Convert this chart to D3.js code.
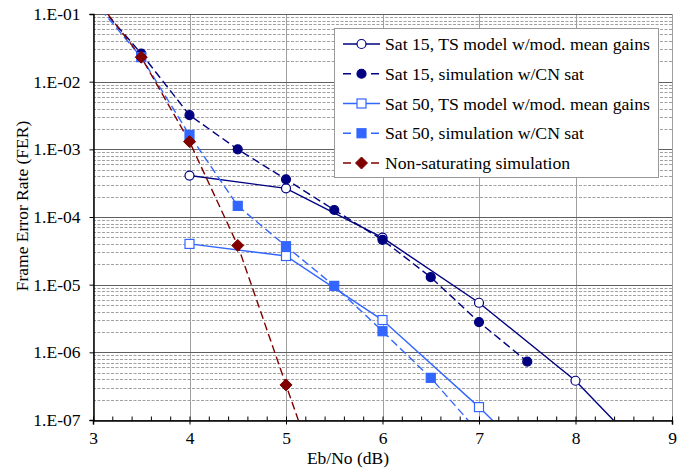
<!DOCTYPE html>
<html>
<head>
<meta charset="utf-8">
<script src="https://cdn.jsdelivr.net/npm/d3@7"></script>
<style>
  body { margin: 0; background: #fff; }
</style>
</head>
<body>
<div id="chart"></div>
<script>
// Eb/No (dB) points and frame error rates
const xSat15TS = [4, 5, 6, 7, 8, 8.5];
const ferSat15TS = [4.1e-4, 2.65e-4, 4.95e-5, 5.4e-6, 3.8e-7, 6.9e-8];

const xSat15Sim = [3, 3.5, 4, 4.5, 5, 5.5, 6, 6.5, 7, 7.5];
const ferSat15Sim = [0.17, 2.6e-2, 3.2e-3, 1.0e-3, 3.6e-4, 1.27e-4, 4.6e-5, 1.29e-5, 2.8e-6, 7.3e-7];

const xSat50TS = [4, 5, 6, 7, 7.5];
const ferSat50TS = [4.0e-5, 2.65e-5, 3.0e-6, 1.55e-7, 3.1e-8];

const xSat50Sim = [3, 3.5, 4, 4.5, 5, 5.5, 6, 6.5, 7];
const ferSat50Sim = [0.16, 2.3e-2, 1.63e-3, 1.46e-4, 3.7e-5, 9.6e-6, 2.05e-6, 4.2e-7, 6.5e-8];

const xNonSat = [3, 3.5, 4, 4.5, 5, 5.5];
const ferNonSat = [0.19, 2.3e-2, 1.3e-3, 3.8e-5, 3.3e-7, 3e-9];

const seriesNames = [
  "Sat 15, TS model w/mod. mean gains",
  "Sat 15, simulation w/CN sat",
  "Sat 50, TS model w/mod. mean gains",
  "Sat 50, simulation w/CN sat",
  "Non-saturating simulation"
];
const xTicks = [3, 4, 5, 6, 7, 8, 9];
const yTicks = [1e-7, 1e-6, 1e-5, 1e-4, 1e-3, 1e-2, 1e-1];

const navy = "#000080", blue = "#3366ff", red = "#800000";
const serif = "'Liberation Serif', 'DejaVu Serif', serif";

const series = [
  { name: seriesNames[0], xs: xSat15TS, ys: ferSat15TS, color: navy, dash: null, marker: "circle", fill: "#fff" },
  { name: seriesNames[1], xs: xSat15Sim, ys: ferSat15Sim, color: navy, dash: "8,4", marker: "circle", fill: navy },
  { name: seriesNames[2], xs: xSat50TS, ys: ferSat50TS, color: blue, dash: null, marker: "square", fill: "#fff" },
  { name: seriesNames[3], xs: xSat50Sim, ys: ferSat50Sim, color: blue, dash: "8,4", marker: "square", fill: blue },
  { name: seriesNames[4], xs: xNonSat, ys: ferNonSat, color: red, dash: "8,4", marker: "diamond", fill: red }
];

const width = 699, height = 468;
const pLeft = 93, pRight = 672, pTop = 14, pBottom = 420;

const svg = d3.select("#chart").append("svg")
  .attr("width", width).attr("height", height)
  .style("font-family", serif);

const x = d3.scaleLinear().domain([3, 9]).range([pLeft, pRight]);
const y = d3.scaleLog().domain([1e-7, 1e-1]).range([pBottom, pTop]);

// minor horizontal grid (2..9 in each decade)
const minor = [];
for (let e = -7; e < -1; e++) for (let m = 2; m <= 9; m++) minor.push(m * Math.pow(10, e));
svg.append("g").selectAll("line").data(minor).join("line")
  .attr("x1", pLeft).attr("x2", pRight)
  .attr("y1", d => Math.round(y(d)) + 0.5).attr("y2", d => Math.round(y(d)) + 0.5)
  .attr("stroke", "#a0a0a0").attr("stroke-dasharray", "3,1.5");

// vertical grid
svg.append("g").selectAll("line").data(xTicks).join("line")
  .attr("x1", d => Math.round(x(d)) + 0.5).attr("x2", d => Math.round(x(d)) + 0.5)
  .attr("y1", pTop).attr("y2", pBottom)
  .attr("stroke", "#a0a0a0");

// major horizontal grid
svg.append("g").selectAll("line").data(yTicks).join("line")
  .attr("x1", pLeft).attr("x2", pRight)
  .attr("y1", d => Math.round(y(d)) + 0.5).attr("y2", d => Math.round(y(d)) + 0.5)
  .attr("stroke", "#606060");

// axes
const fmt = d => "1.E-" + String(-Math.round(Math.log10(d))).padStart(2, "0");
const yAxis = svg.append("g").attr("transform", `translate(${pLeft + 0.5},0)`)
  .call(d3.axisLeft(y).tickValues(yTicks).tickFormat(fmt).tickSize(4).tickPadding(9));
yAxis.attr("font-family", serif).attr("font-size", 17.5);
yAxis.selectAll("text").attr("fill", "#000");

const xMinor = d3.range(3, 9.001, 0.2);
svg.append("g").attr("transform", `translate(0,${pBottom + 0.5})`)
  .call(d3.axisBottom(x).tickValues(xMinor).tickSize(-4).tickFormat(""))
  .select(".domain").remove();
const xAxis = svg.append("g").attr("transform", `translate(0,${pBottom + 0.5})`)
  .call(d3.axisBottom(x).tickValues(xTicks).tickFormat(d3.format("d")).tickSize(4).tickPadding(7.2));
xAxis.attr("font-family", serif).attr("font-size", 17.5);
xAxis.selectAll("text").attr("fill", "#000");
svg.selectAll(".domain").attr("stroke", "#000").attr("stroke-width", 1.5);

// titles
svg.append("text").attr("x", 348).attr("y", 464)
  .attr("text-anchor", "middle").attr("font-size", 17.5).text("Eb/No (dB)");
svg.append("text").attr("transform", `translate(27.5,206) rotate(-90)`)
  .attr("text-anchor", "middle").attr("font-size", 17.5).text("Frame Error Rate (FER)");

// clip
svg.append("clipPath").attr("id", "plot").append("rect")
  .attr("x", pLeft).attr("y", pTop).attr("width", pRight - pLeft).attr("height", pBottom - pTop);

const line = d3.line().x(d => x(d[0])).y(d => y(d[1]));

function drawMarker(g, type, cx, cy, color, fill) {
  if (type === "circle") {
    g.append("circle").attr("cx", cx).attr("cy", cy).attr("r", 4.5)
      .attr("fill", fill).attr("stroke", color).attr("stroke-width", 1.2);
  } else if (type === "square") {
    g.append("rect").attr("x", cx - 4.5).attr("y", cy - 4.5).attr("width", 9).attr("height", 9)
      .attr("fill", fill).attr("stroke", color).attr("stroke-width", 1.2);
  } else {
    g.append("path").attr("d", `M${cx},${cy - 6}L${cx + 6},${cy}L${cx},${cy + 6}L${cx - 6},${cy}Z`)
      .attr("fill", fill).attr("stroke", color).attr("stroke-width", 1);
  }
}

const plot = svg.append("g").attr("clip-path", "url(#plot)");
series.forEach(s => {
  const pts = s.xs.map((v, i) => [v, s.ys[i]]);
  plot.append("path").datum(pts).attr("d", line)
    .attr("fill", "none").attr("stroke", s.color).attr("stroke-width", 1.4)
    .attr("stroke-dasharray", s.dash);
});
series.forEach(s => {
  const g = plot.append("g");
  s.xs.forEach((v, i) => {
    const f = s.ys[i];
    if (f > 0.1 || f < 1e-7) return;
    drawMarker(g, s.marker, x(v), y(f), s.color, s.fill);
  });
});

// legend
const lg = svg.append("g");
lg.append("rect").attr("x", 334.5).attr("y", 28.5).attr("width", 324).attr("height", 149)
  .attr("fill", "#fff").attr("stroke", "#999");
series.forEach((s, i) => {
  const ly = 44 + i * 29.75;
  lg.append("line").attr("x1", 343).attr("x2", 380).attr("y1", ly).attr("y2", ly)
    .attr("stroke", s.color).attr("stroke-width", 1.4)
    .attr("stroke-dasharray", s.dash ? "8,6" : null);
  drawMarker(lg, s.marker, 361.5, ly, s.color, s.fill);
  lg.append("text").attr("x", 385).attr("y", ly + 6).attr("font-size", 17.7).text(s.name);
});
</script>
</body>
</html>
